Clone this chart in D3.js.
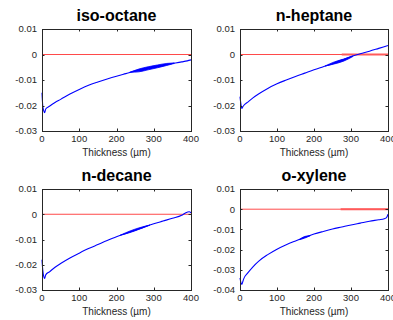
<!DOCTYPE html>
<html>
<head>
<meta charset="utf-8">
<script src="https://cdn.jsdelivr.net/npm/d3@7"></script>
<style>
  body { margin: 0; background: #fff; }
  svg { font-family: "Liberation Sans", Arial, Helvetica, sans-serif; }
</style>
</head>
<body>
<svg id="chart" width="393" height="320"></svg>
<script>
// data
var titles = ["iso-octane", "n-heptane", "n-decane", "o-xylene"];
var xTicks = [0, 100, 200, 300, 400];
var yTicksA = [0.01, 0, -0.01, -0.02, -0.03];
var yTicksB = [0.01, 0, -0.01, -0.02, -0.03, -0.04];
var yTickLabelsA = ["0.01", "0", "-0.01", "-0.02", "-0.03"];
var yTickLabelsB = ["0.01", "0", "-0.01", "-0.02", "-0.03", "-0.04"];

var isoOctaneX = [0, 2, 5, 7, 10, 20, 35, 50, 75, 100, 125, 150, 175, 200, 225, 250, 275, 300, 325, 350, 375, 390, 400];
var isoOctaneY = [-0.0150, -0.0200, -0.0222, -0.0228, -0.0214, -0.0203, -0.0188, -0.0176, -0.0155, -0.0137, -0.0121, -0.0108, -0.0096, -0.0085, -0.0075,
  -0.0065, -0.0056, -0.0048, -0.0041, -0.0035, -0.0029, -0.0025, -0.0021];

var heptaneX = [0, 2, 5, 7, 10, 20, 35, 50, 75, 100, 125, 150, 175, 200, 225, 250, 275, 300, 325, 350, 375, 400];
var heptaneY = [-0.0165, -0.0190, -0.0212, -0.0207, -0.0200, -0.0188, -0.0170, -0.0155, -0.0133, -0.0115, -0.0100, -0.0086, -0.0073, -0.0060, -0.0048,
  -0.0036, -0.0022, -0.0008, 0.0003, 0.0013, 0.0024, 0.0035];

var decaneX = [0, 2, 5, 7, 10, 20, 35, 50, 75, 100, 125, 150, 175, 200, 225, 250, 275, 300, 325, 350, 375, 385, 395, 400];
var decaneY = [-0.0180, -0.0220, -0.0248, -0.0254, -0.0240, -0.0228, -0.0210, -0.0195, -0.0173, -0.0154, -0.0136, -0.0120, -0.0104, -0.0089, -0.0076,
  -0.0063, -0.0050, -0.0038, -0.0027, -0.0016, -0.0004, 0.0005, 0.0010, 0.0006];

var xyleneX = [0, 2, 5, 7, 10, 20, 35, 50, 75, 100, 125, 150, 175, 200, 225, 250, 275, 300, 325, 350, 375, 390, 396, 400];
var xyleneY = [-0.0340, -0.0360, -0.0373, -0.0362, -0.0345, -0.0318, -0.0285, -0.0258, -0.0225, -0.0198, -0.0176, -0.0157,
  -0.0139, -0.0123, -0.0110, -0.0098, -0.0088, -0.0078, -0.0069, -0.0060, -0.0052, -0.0047, -0.0042, -0.0025];

// noise envelope (min / max) where the measurement gets fuzzy
var isoOctaneNoiseX = [235, 260, 285, 310, 335, 355];
var isoOctaneNoiseLo = [-0.0070, -0.0068, -0.0060, -0.0052, -0.0043, -0.0035];
var isoOctaneNoiseHi = [-0.0070, -0.0057, -0.0048, -0.0041, -0.0035, -0.0033];

var heptaneNoiseX = [230, 255, 280, 305];
var heptaneNoiseLo = [-0.0045, -0.0037, -0.0026, -0.0008];
var heptaneNoiseHi = [-0.0045, -0.0029, -0.0018, -0.0006];

var decaneNoiseX = [210, 235, 260, 290];
var decaneNoiseLo = [-0.0083, -0.0073, -0.0060, -0.0043];
var decaneNoiseHi = [-0.0083, -0.0067, -0.0054, -0.0043];

var xyleneNoiseX = [160, 175, 190];
var xyleneNoiseLo = [-0.0151, -0.0143, -0.0131];
var xyleneNoiseHi = [-0.0151, -0.0135, -0.0131];

var seriesX = [isoOctaneX, heptaneX, decaneX, xyleneX];
var seriesY = [isoOctaneY, heptaneY, decaneY, xyleneY];
var noiseX = [isoOctaneNoiseX, heptaneNoiseX, decaneNoiseX, xyleneNoiseX];
var noiseLo = [isoOctaneNoiseLo, heptaneNoiseLo, decaneNoiseLo, xyleneNoiseLo];
var noiseHi = [isoOctaneNoiseHi, heptaneNoiseHi, decaneNoiseHi, xyleneNoiseHi];
var yDomains = [[-0.03, 0.01], [-0.03, 0.01], [-0.03, 0.01], [-0.04, 0.01]];
var yTicks = [yTicksA, yTicksA, yTicksA, yTicksB];
var yTickLabels = [yTickLabelsA, yTickLabelsA, yTickLabelsA, yTickLabelsB];
// zero reference line, drawn twice over this range in some panels
var refOverlapStart = [null, 275, null, 272];

// panel boxes (left, top, right, bottom)
var boxes = [
  [42, 29, 191, 131],
  [240, 29, 388, 131],
  [42, 189, 191, 290],
  [240, 189, 388, 290]
];

var svg = d3.select("#chart");
var axisColor = "#262626";

titles.forEach(function(title, i) {
  var b = boxes[i];
  var x = d3.scaleLinear().domain([0, 400]).range([b[0], b[2]]);
  var y = d3.scaleLinear().domain(yDomains[i]).range([b[3], b[1]]);
  var g = svg.append("g");

  g.append("rect")
    .attr("x", b[0]).attr("y", b[1])
    .attr("width", b[2] - b[0]).attr("height", b[3] - b[1])
    .attr("fill", "#fff");

  // red zero line
  var line = d3.line().x(function(d) { return x(d[0]); }).y(function(d) { return y(d[1]); });
  g.append("path")
    .attr("d", line([[0, 0], [400, 0]]))
    .attr("stroke", "#ff4a4a").attr("stroke-width", 1).attr("fill", "none");
  if (refOverlapStart[i] != null) {
    g.append("path")
      .attr("d", line([[refOverlapStart[i], 0], [400, 0]]))
      .attr("stroke", "#ff5a5a").attr("stroke-width", 2).attr("fill", "none");
  }

  // blue curve
  var pts = seriesX[i].map(function(v, k) { return [v, seriesY[i][k]]; });
  g.append("path")
    .attr("d", line.curve(d3.curveMonotoneX)(pts))
    .attr("stroke", "#0000ff").attr("stroke-width", 1.1)
    .attr("stroke-linejoin", "round")
    .attr("fill", "none");

  // noise band
  var band = d3.area()
    .x(function(d, k) { return x(noiseX[i][k]); })
    .y0(function(d, k) { return y(noiseLo[i][k]); })
    .y1(function(d, k) { return y(noiseHi[i][k]); })
    .curve(d3.curveMonotoneX);
  g.append("path")
    .attr("d", band(noiseX[i]))
    .attr("fill", "#0000ff").attr("stroke", "#0000ff").attr("stroke-width", 0.8);

  // frame
  g.append("rect")
    .attr("x", b[0] + 0.5).attr("y", b[1] + 0.5)
    .attr("width", b[2] - b[0]).attr("height", b[3] - b[1])
    .attr("fill", "none").attr("stroke", axisColor).attr("stroke-width", 1);

  // x ticks (inward, bottom and top)
  xTicks.forEach(function(t) {
    var px = Math.round(x(t)) + 0.5;
    g.append("line").attr("x1", px).attr("x2", px).attr("y1", b[3]).attr("y2", b[3] - 2.5)
      .attr("stroke", axisColor);
    g.append("line").attr("x1", px).attr("x2", px).attr("y1", b[1]).attr("y2", b[1] + 2.5)
      .attr("stroke", axisColor);
    g.append("text")
      .attr("x", x(t)).attr("y", b[3] + 10.5)
      .attr("text-anchor", "middle")
      .attr("font-size", "9.5px").attr("fill", axisColor)
      .text(t);
  });

  // y ticks
  yTicks[i].forEach(function(t, k) {
    var py = Math.round(y(t)) + 0.5;
    g.append("line").attr("x1", b[0]).attr("x2", b[0] + 2.5).attr("y1", py).attr("y2", py)
      .attr("stroke", axisColor);
    g.append("line").attr("x1", b[2]).attr("x2", b[2] - 2.5).attr("y1", py).attr("y2", py)
      .attr("stroke", axisColor);
    g.append("text")
      .attr("x", b[0] - 5).attr("y", y(t))
      .attr("dy", "0.35em")
      .attr("text-anchor", "end")
      .attr("font-size", "9.5px").attr("fill", axisColor)
      .text(yTickLabels[i][k]);
  });

  // x label
  g.append("text")
    .attr("x", (b[0] + b[2]) / 2).attr("y", b[3] + 25)
    .attr("text-anchor", "middle")
    .attr("font-size", "10px").attr("fill", axisColor)
    .text("Thickness (\u00b5m)");

  // title
  g.append("text")
    .attr("x", (b[0] + b[2]) / 2).attr("y", b[1] - 8.5)
    .attr("text-anchor", "middle")
    .attr("font-size", "16px").attr("font-weight", "bold").attr("fill", "#000")
    .text(title);
});
</script>
</body>
</html>
